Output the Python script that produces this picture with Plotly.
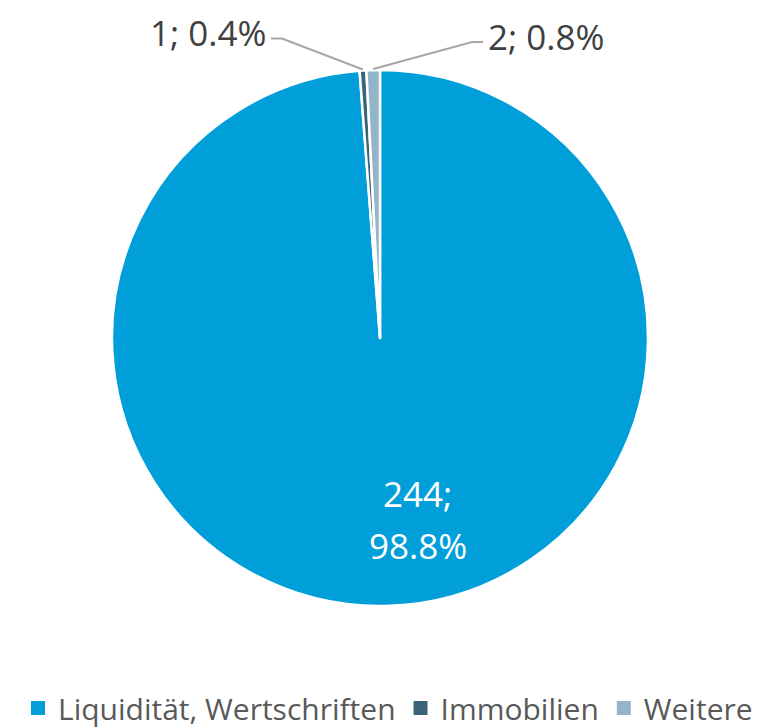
import math
import plotly.graph_objects as go

categories = ["Liquidität, Wertschriften", "Immobilien", "Weitere"]
values = [244, 1, 2]
colors = ["#009FDA", "#3B6478", "#93B5C9"]

W, H = 767, 728
OFF = 8                      # page body margin in the browser
CX, CY, R = 380, 338, 268    # pie centre / radius in screen pixels
FONT = "Open Sans"

def px(x):
    return (x - OFF) / W

def py(y):
    return 1 - (y - OFF) / H

total = sum(values)
pct = [v / total * 100 for v in values]

fig = go.Figure()
fig.add_trace(go.Pie(
    labels=categories,
    values=values,
    sort=False,
    direction="clockwise",
    rotation=0,
    marker=dict(colors=colors, line=dict(color="white", width=2.5)),
    textposition="none",
    hoverinfo="label+value+percent",
    showlegend=False,
    domain=dict(x=[px(CX - R), px(CX + R)], y=[py(CY + R), py(CY - R)]),
))

# legend entries with larger square symbols
for name, col in zip(categories, colors):
    fig.add_trace(go.Scatter(x=[None], y=[None], mode="markers", name=name,
                             marker=dict(symbol="square", size=14, color=col),
                             hoverinfo="skip"))

shapes, annotations = [], []

# label inside the big slice (two lines)
for j, line in enumerate([f"{values[0]};", f"{pct[0]:.1f}%"]):
    annotations.append(dict(
        xref="paper", yref="paper", x=px(CX + 38), y=py(CY + 155 + j * 52),
        xanchor="center", yanchor="middle", align="center",
        text=line, showarrow=False,
        font=dict(size=35, color="white", family=FONT),
    ))

# outside labels with leader lines for the small slices
offsets = {1: (-81, -31, -1), 2: (99, -27, 1)}
cum = 0.0
for i, v in enumerate(values):
    mid = (cum + v / 2) / total * 2 * math.pi
    cum += v
    if i not in offsets:
        continue
    ex = CX + (R + 1) * math.sin(mid)
    ey = CY - (R + 1) * math.cos(mid)
    dx, dy, side = offsets[i]
    kx, ky = ex + dx, ey + dy
    tx = kx + side * 11
    path = f"M {px(ex)},{py(ey)} L {px(kx)},{py(ky)} L {px(tx)},{py(ky)}"
    shapes.append(dict(type="path", xref="paper", yref="paper", path=path,
                       line=dict(color="#A6A6A6", width=2)))
    annotations.append(dict(
        xref="paper", yref="paper", x=px(tx + side * 3), y=py(ky - 6),
        xanchor="left" if side > 0 else "right", yanchor="middle",
        text=f"{v}; {pct[i]:.1f}%", showarrow=False,
        font=dict(size=35, color="#404040", family=FONT),
    ))

fig.update_layout(
    width=W, height=H,
    margin=dict(l=0, r=0, t=0, b=0),
    paper_bgcolor="white",
    plot_bgcolor="white",
    xaxis=dict(visible=False),
    yaxis=dict(visible=False),
    shapes=shapes,
    annotations=annotations,
    showlegend=True,
    legend=dict(orientation="h", x=px(388), xanchor="center", y=py(708), yanchor="middle",
                font=dict(size=30, color="#595959", family=FONT),
                itemclick=False, itemdoubleclick=False),
)

fig.write_html("out.html")
